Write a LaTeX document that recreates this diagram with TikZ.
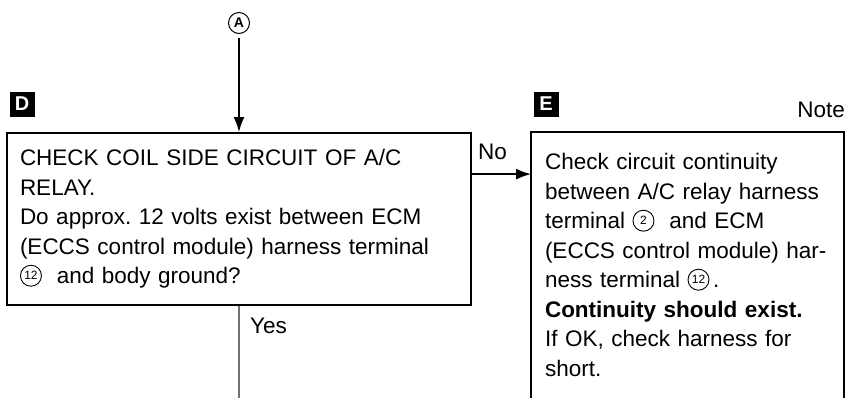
\documentclass[tikz,border=0pt]{standalone}
\usepackage{fontspec}
\setmainfont{Liberation Sans}
\usetikzlibrary{arrows.meta,positioning}

% small circled terminal number, drawn inline
\newcommand{\cnum}[1]{\tikz[baseline=-0.36em]{\draw[line width=0.9pt] (0pt,0pt) circle[radius=10.5pt]; \pgftext{\fontsize{12}{12}\selectfont #1}}}

\begin{document}
\frenchspacing
\begin{tikzpicture}[x=1pt, y=-1pt,
  box/.style={draw, line width=1.8pt, inner xsep=13pt, inner ysep=5pt, align=left, font=\fontsize{22.5}{29.5}\selectfont},
  lbl/.style={inner sep=0pt, font=\fontsize{22.5}{29.5}\selectfont},
  tag/.style={fill=black, text=white, minimum size=25pt, inner sep=0pt, font=\bfseries\fontsize{20}{20}\selectfont},
  arr/.style={-{Latex[length=15pt,width=11pt]}, line width=1.8pt}
]
\useasboundingbox (0,0) rectangle (854,397);
\node[draw, circle, minimum size=21pt, inner sep=0pt, line width=1pt, font=\bfseries\fontsize{14}{14}\selectfont] (cona) at (239,23) {A};
\node[tag] (tagd) at (22,104) {D};
\node[tag] (tage) at (546,104) {E};
\node[lbl, anchor=base east] (note) at (845,117) {Note};
\node[box, text width=438pt, minimum height=172pt] (dbox) at (239,219) {CHECK COIL SIDE CIRCUIT OF A/C\\RELAY.\\Do approx. 12 volts exist between ECM\\(ECCS control module) harness terminal\\\cnum{12}\ \ and body ground?};
\node[box, draw=none, text width=285pt, minimum height=264pt] (ebox) at (687.5,265) {Check circuit continuity\\between A/C relay harness\\terminal \cnum{2}\ \ and ECM\\(ECCS control module) har-\\ness terminal \cnum{12}\,.\\\textbf{Continuity should exist.}\\If OK, check harness for\\short.};
\draw[line width=1.8pt] (ebox.south west) -- (ebox.north west) -- (ebox.north east) -- (ebox.south east);
\draw[arr, shorten <=4pt] (cona.south) -- (dbox.north);
\draw[arr] ([yshift=-42pt]dbox.north east) -- ([yshift=-42pt]ebox.north west);
\node[lbl, anchor=base west] (no) at ([xshift=6pt, yshift=-27pt]dbox.north east) {No};
\draw[black!55, line width=1.4pt] (dbox.south) -- (dbox.south |- ebox.south);
\node[lbl, anchor=base west] (yes) at ([xshift=11pt, yshift=-28pt]dbox.south) {Yes};
\end{tikzpicture}
\end{document}
